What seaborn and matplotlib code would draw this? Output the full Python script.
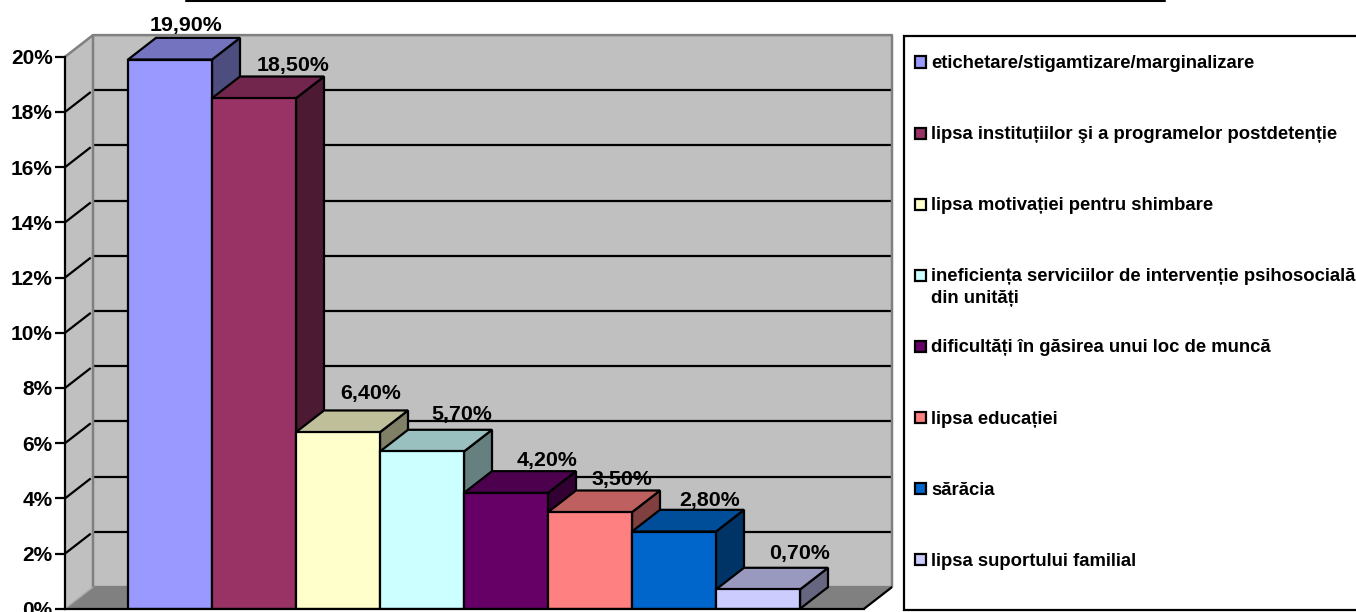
import numpy as np
import pandas as pd
import seaborn as sns
import matplotlib
matplotlib.use("Agg")
import matplotlib.pyplot as plt
from matplotlib.patches import Polygon, Rectangle
from matplotlib.lines import Line2D
from matplotlib.colors import to_rgb

categories = [
    "etichetare/stigamtizare/marginalizare",
    "lipsa instituțiilor şi a programelor postdetenție",
    "lipsa motivației pentru shimbare",
    "ineficiența serviciilor de intervenție psihosocială\ndin unități",
    "dificultăți în găsirea unui loc de muncă",
    "lipsa educației",
    "sărăcia",
    "lipsa suportului familial",
]
values = [19.9, 18.5, 6.4, 5.7, 4.2, 3.5, 2.8, 0.7]
value_labels = ["19,90%", "18,50%", "6,40%", "5,70%", "4,20%", "3,50%", "2,80%", "0,70%"]
colors = ["#9999FF", "#993366", "#FFFFCC", "#CCFFFF", "#660066", "#FF8080", "#0066CC", "#CCCCFF"]
y_ticks = list(range(0, 21, 2))

W, H = 1356, 612
sns.set_theme(style="white")
plt.rcParams["font.family"] = ["Liberation Sans", "DejaVu Sans"]
plt.rcParams["font.weight"] = "bold"

fig = plt.figure(figsize=(W / 100, H / 100), dpi=100, facecolor="white")
PX_L, PX_R, PX_T, PX_B = 65, 892, 35.5, 608.8
ax = fig.add_axes([PX_L / W, 1 - PX_B / H, (PX_R - PX_L) / W, (PX_B - PX_T) / H])

df = pd.DataFrame({"cat": categories, "val": values})
sns.barplot(data=df, x="cat", y="val", hue="cat", hue_order=categories, order=categories,
            palette=colors, dodge=False, width=1, legend=False, saturation=1,
            edgecolor="black", linewidth=1.6, ax=ax)

PX_PER_CAT, PX_PER_PCT = 84.0, 27.6
xlo = (PX_L - 170) / PX_PER_CAT
xhi = (PX_R - 170) / PX_PER_CAT
ax.set_xlim(xlo, xhi)
ax.set_ylim(0, (PX_B - PX_T) / PX_PER_PCT)
DX, DY = 28 / PX_PER_CAT, 21.7 / PX_PER_PCT
xfront = xhi - DX
top = max(y_ticks)

GRAY, EDGE, FLOOR = "#C0C0C0", "#808080", "#808080"
ax.set_facecolor("white")
ax.add_patch(Polygon([(xlo + DX, DY), (xhi, DY), (xhi, top + DY), (xlo + DX, top + DY)],
                     fc=GRAY, ec="none", zorder=0))
ax.add_patch(Polygon([(xlo, 0), (xlo + DX, DY), (xlo + DX, top + DY), (xlo, top)],
                     fc=GRAY, ec="none", zorder=0))
ax.add_patch(Polygon([(xlo, 0), (xfront, 0), (xhi, DY), (xlo + DX, DY)],
                     fc=FLOOR, ec="none", zorder=0.5))
for y in y_ticks[1:-1]:
    ax.plot([xlo, xlo + DX * 0.92], [y, y + DY * 0.92], color="black", lw=1.6, zorder=1, solid_capstyle="butt")
    ax.plot([xlo + DX * 1.05, xhi], [y + DY, y + DY], color="black", lw=1.6, zorder=1, solid_capstyle="butt")
ax.plot([xlo, xlo + DX, xhi, xhi, xlo + DX, xlo + DX], [top, top + DY, top + DY, DY, DY, top + DY],
        color=EDGE, lw=1.8, zorder=1.2, clip_on=False)
ax.plot([xlo, xlo + DX], [0, DY], color="#A8A8A8", lw=1, zorder=1.2)
ax.plot([xfront, xhi], [0, DY], color="black", lw=1.6, zorder=1.2)

def shade(c, f):
    return tuple(v * f for v in to_rgb(c))

bars = [p for p in ax.patches if isinstance(p, Rectangle) and p.get_height() > 0][:len(values)]
bars = sorted(bars, key=lambda b: b.get_x())
label_dx = [16, 39, 33, 40, 41, 32, 36, 42]
label_dy = [34.5, 33, 38.5, 37, 32, 33, 31.5, 35.5]
for i, (b, c, t) in enumerate(zip(bars, colors, value_labels)):
    x0, x1, h = b.get_x(), b.get_x() + b.get_width(), b.get_height()
    z = 3 + i
    b.set_zorder(z + 0.2)
    ax.add_patch(Polygon([(x1, 0), (x1 + DX, DY), (x1 + DX, h + DY), (x1, h)],
                         fc=shade(c, 0.5), ec="black", lw=1.6, zorder=z))
    ax.add_patch(Polygon([(x0, h), (x1, h), (x1 + DX, h + DY), (x0 + DX, h + DY)],
                         fc=shade(c, 0.75), ec="black", lw=1.6, zorder=z + 0.1))
    ax.annotate(t, xy=(i, h), xytext=(label_dx[i], label_dy[i]), textcoords="offset pixels",
                ha="center", va="center", fontsize=15.4, fontweight="bold", color="black",
                zorder=20, annotation_clip=False)

for s in ["top", "right"]:
    ax.spines[s].set_visible(False)
ax.spines["left"].set_bounds(0, top)
ax.spines["bottom"].set_bounds(xlo, xfront)
for s in ["left", "bottom"]:
    ax.spines[s].set_visible(True)
    ax.spines[s].set_color("black")
    ax.spines[s].set_linewidth(1.6)
    ax.spines[s].set_zorder(15)
ax.set_xticks([])
ax.set_xlabel("")
ax.set_ylabel("")
ax.set_yticks(y_ticks)
ax.set_yticklabels([f"{v}%" for v in y_ticks], fontsize=15, fontweight="bold", color="black")
ax.tick_params(axis="y", direction="out", length=7, width=1.6, color="black", pad=2, left=True)

# title underline, clipped at the top of the image
fig.add_artist(Line2D([186 / W, 1165 / W], [1 - 1 / H, 1 - 1 / H], color="black", lw=1.5))

# legend panel
fig.add_artist(Rectangle((904 / W, 1 - 610 / H), 470 / W, 574 / H, transform=fig.transFigure,
                         fc="white", ec="black", lw=1.6))
for i, (cat, c) in enumerate(zip(categories, colors)):
    yc = 62 + i * 71.1
    fig.add_artist(Rectangle((915 / W, 1 - (yc + 5.5) / H), 11 / W, 11 / H, transform=fig.transFigure,
                             fc=c, ec="black", lw=1.6))
    lines = cat.split("\n")
    for j, line in enumerate(lines):
        fig.text(931 / W, 1 - (yc + 1.5 + j * 22) / H, line, ha="left", va="center", fontsize=13.35,
                 fontweight="bold", color="black")

fig.savefig("out.png", dpi=100, facecolor="white")
